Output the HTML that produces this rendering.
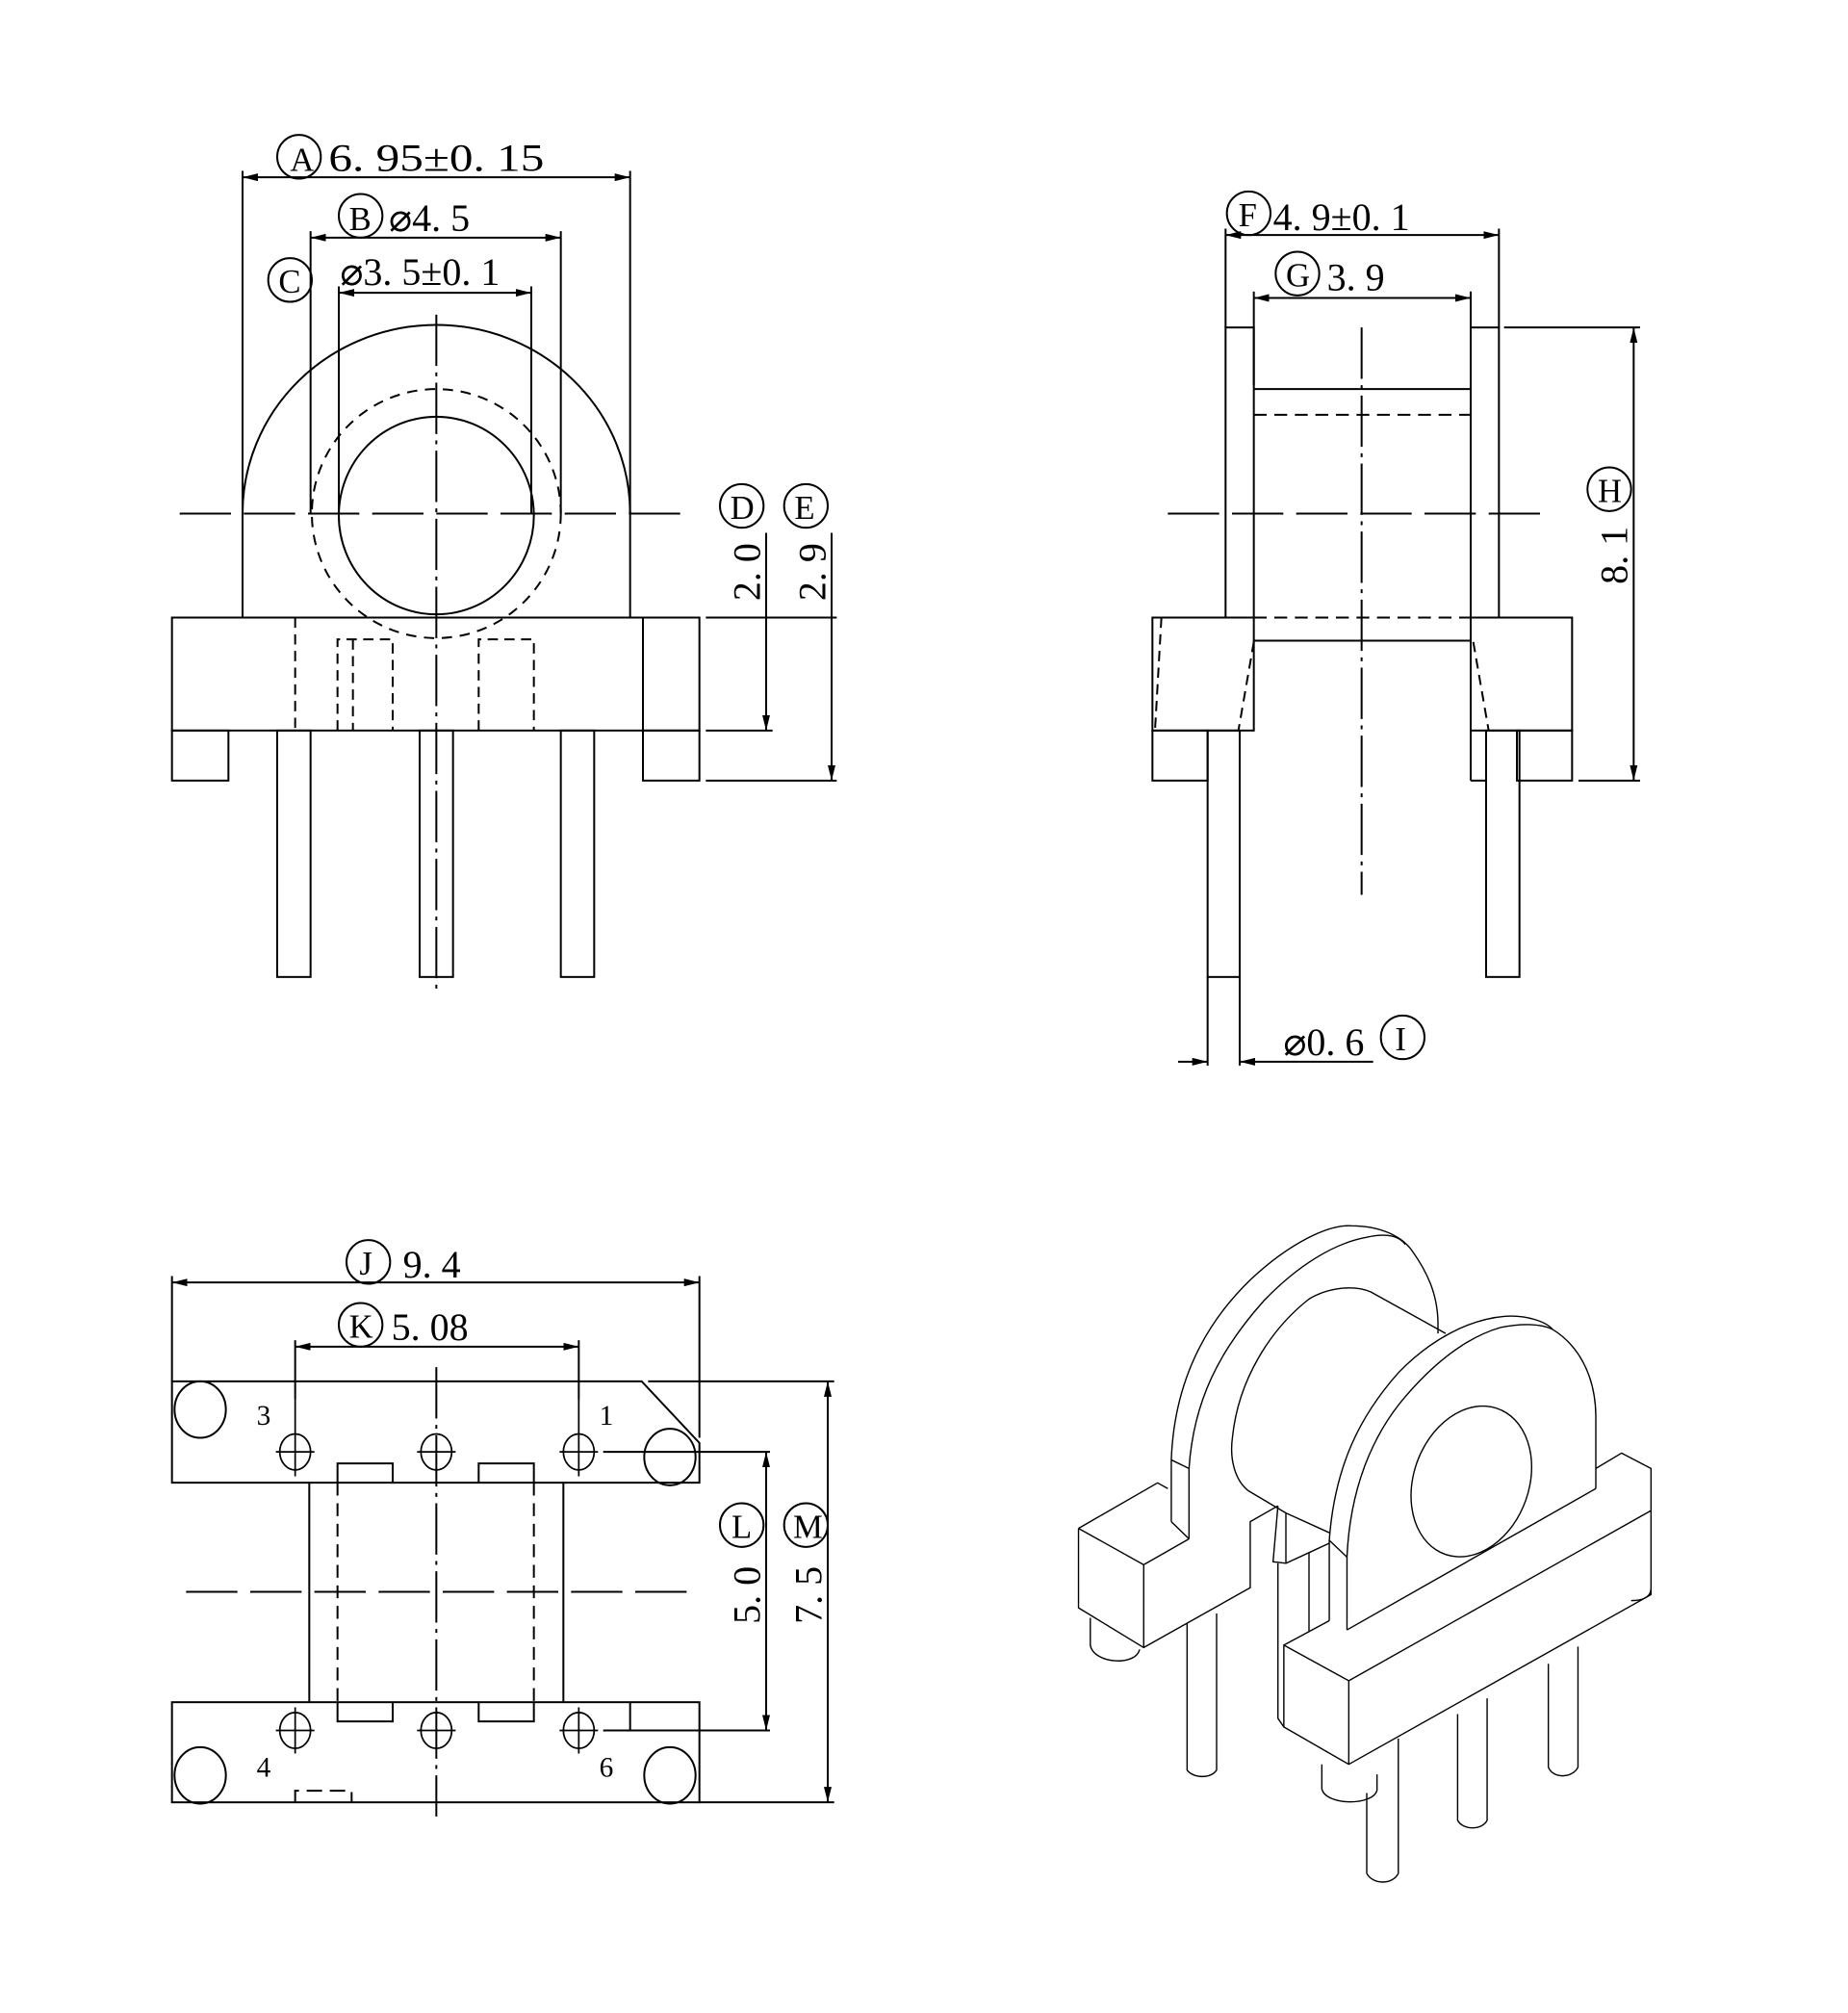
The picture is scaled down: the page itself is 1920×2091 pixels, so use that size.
<!DOCTYPE html>
<html><head><meta charset="utf-8"><style>
html,body{margin:0;padding:0;background:#fff;width:1920px;height:2091px;overflow:hidden}
svg{display:block}
text{font-family:"Liberation Serif",serif;fill:#000}
</style></head><body>
<svg width="1920" height="2091" viewBox="0 0 1440 1568" xmlns="http://www.w3.org/2000/svg">
<defs>
<marker id="a" viewBox="0 0 12 6" refX="12" refY="3" markerWidth="12" markerHeight="6" orient="auto-start-reverse" markerUnits="userSpaceOnUse"><path d="M0,0 L12,3 L0,6z" fill="#000"/></marker>
</defs>
<g fill="none" stroke="#000" stroke-width="1.5">
<!-- ===== TOP LEFT VIEW ===== -->
<line x1="189" y1="133" x2="189" y2="400"/><line x1="491" y1="133" x2="491" y2="400"/>
<line x1="189" y1="138" x2="491" y2="138" marker-start="url(#a)" marker-end="url(#a)"/>
<line x1="242" y1="180" x2="242" y2="400"/><line x1="437" y1="180" x2="437" y2="400"/>
<line x1="242" y1="185" x2="437" y2="185" marker-start="url(#a)" marker-end="url(#a)"/>
<line x1="264" y1="223" x2="264" y2="400"/><line x1="414" y1="223" x2="414" y2="400"/>
<line x1="264" y1="228" x2="414" y2="228" marker-start="url(#a)" marker-end="url(#a)"/>
<path d="M189,400 A151,147 0 0 1 491,400"/>
<line x1="189" y1="400" x2="189" y2="481"/><line x1="491" y1="400" x2="491" y2="481"/>
<circle cx="340" cy="400" r="97" stroke-dasharray="8,6"/>
<ellipse cx="340" cy="401.5" rx="76" ry="77"/>
<line x1="340" y1="245" x2="340" y2="770" stroke-dasharray="40,5,3,5"/>
<line x1="140" y1="400" x2="540" y2="400" stroke-dasharray="40,10"/>
<rect x="134" y="481" width="411" height="88"/>
<rect x="134" y="569" width="44" height="39"/><rect x="501" y="569" width="44" height="39"/>
<line x1="501" y1="481" x2="501" y2="569"/>
<line x1="230" y1="481" x2="230" y2="569" stroke-dasharray="8,5"/>
<path d="M263,569 V498 H306 V569" stroke-dasharray="8,5"/>
<path d="M373,569 V498 H416 V569" stroke-dasharray="8,5"/>
<line x1="275" y1="498" x2="275" y2="569" stroke-dasharray="8,5"/>
<rect x="216" y="569" width="26" height="192"/><rect x="327" y="569" width="26" height="192"/><rect x="437" y="569" width="26" height="192"/>
<line x1="550" y1="481" x2="652" y2="481"/><line x1="550" y1="569" x2="602" y2="569"/><line x1="550" y1="608" x2="652" y2="608"/>
<line x1="597" y1="415" x2="597" y2="569" marker-end="url(#a)"/>
<line x1="648" y1="415" x2="648" y2="608" marker-end="url(#a)"/>
<circle cx="233" cy="122" r="17"/><circle cx="281" cy="168" r="17"/><circle cx="226" cy="218" r="17"/>
<circle cx="578" cy="394" r="17"/><circle cx="628" cy="394" r="17"/>

<!-- ===== TOP RIGHT VIEW ===== -->
<line x1="955" y1="178" x2="955" y2="255"/><line x1="1168" y1="178" x2="1168" y2="255"/>
<line x1="955" y1="183" x2="1168" y2="183" marker-start="url(#a)" marker-end="url(#a)"/>
<line x1="977" y1="227" x2="977" y2="300"/><line x1="1146" y1="227" x2="1146" y2="300"/>
<line x1="977" y1="232" x2="1146" y2="232" marker-start="url(#a)" marker-end="url(#a)"/>
<rect x="955" y="255" width="22" height="226"/><rect x="1146" y="255" width="22" height="226"/>
<line x1="977" y1="303" x2="1146" y2="303"/><line x1="977" y1="499" x2="1146" y2="499"/>
<line x1="977" y1="323" x2="1146" y2="323" stroke-dasharray="10,6"/>
<line x1="977" y1="481" x2="1146" y2="481" stroke-dasharray="10,6"/>
<line x1="1061" y1="255" x2="1061" y2="697" stroke-dasharray="40,5,3,5"/>
<line x1="910" y1="400" x2="1210" y2="400" stroke-dasharray="40,10"/>
<rect x="898" y="481" width="79" height="88"/><rect x="898" y="569" width="43" height="39"/>
<rect x="941" y="569" width="25" height="192"/>
<path d="M905,481 L900,569 M977,500 L965,569" stroke-dasharray="8,5"/>
<rect x="1146" y="481" width="79" height="88"/><rect x="1182" y="569" width="43" height="39"/>
<line x1="1146" y1="569" x2="1146" y2="608"/><line x1="1146" y1="608" x2="1158" y2="608"/>
<rect x="1158" y="569" width="26" height="192"/>
<path d="M1148,500 L1160,569" stroke-dasharray="8,5"/>
<line x1="1172" y1="255" x2="1278" y2="255"/><line x1="1230" y1="608" x2="1278" y2="608"/>
<line x1="1273" y1="255" x2="1273" y2="608" marker-start="url(#a)" marker-end="url(#a)"/>
<line x1="941" y1="761" x2="941" y2="830"/><line x1="966" y1="761" x2="966" y2="830"/>
<line x1="918" y1="827" x2="941" y2="827" marker-end="url(#a)"/>
<line x1="1070" y1="827" x2="966" y2="827" marker-end="url(#a)"/>
<circle cx="973" cy="166" r="17"/><circle cx="1011" cy="213" r="17"/><circle cx="1254" cy="381" r="17"/><circle cx="1093" cy="808" r="17"/>

<!-- ===== BOTTOM LEFT VIEW ===== -->
<line x1="134" y1="994" x2="134" y2="1076"/><line x1="545" y1="994" x2="545" y2="1120"/>
<line x1="134" y1="999" x2="545" y2="999" marker-start="url(#a)" marker-end="url(#a)"/>
<line x1="230" y1="1044" x2="230" y2="1090"/><line x1="451" y1="1044" x2="451" y2="1090"/>
<line x1="230" y1="1049" x2="451" y2="1049" marker-start="url(#a)" marker-end="url(#a)"/>
<path d="M134,1076 H500 L545,1124 V1155 H134 Z"/>
<line x1="505" y1="1076" x2="650" y2="1076"/>
<ellipse cx="156" cy="1098" rx="20" ry="22"/><ellipse cx="522" cy="1135" rx="20" ry="22"/>
<ellipse cx="156" cy="1383" rx="20" ry="22"/><ellipse cx="522" cy="1383" rx="20" ry="22"/>
<g stroke-width="1.3">
<ellipse cx="230" cy="1131" rx="12" ry="14"/><ellipse cx="340" cy="1131" rx="12" ry="14"/><ellipse cx="451" cy="1131" rx="12" ry="14"/>
<ellipse cx="230" cy="1348" rx="12" ry="14"/><ellipse cx="340" cy="1348" rx="12" ry="14"/><ellipse cx="451" cy="1348" rx="12" ry="14"/>
<path d="M215,1131 H245 M325,1131 H355 M436,1131 H466 M215,1348 H245 M325,1348 H355 M436,1348 H466 M230,1330 V1366 M451,1330 V1366 M230,1090 V1150 M451,1090 V1150"/>
</g>
<line x1="470" y1="1131" x2="600" y2="1131"/><line x1="470" y1="1348" x2="600" y2="1348"/>
<line x1="241" y1="1155" x2="241" y2="1326"/><line x1="439" y1="1155" x2="439" y2="1326"/>
<path d="M263,1155 V1140 H306 V1155 M373,1155 V1140 H416 V1155"/>
<path d="M263,1326 V1341 H306 V1326 M373,1326 V1341 H416 V1326"/>
<line x1="263" y1="1155" x2="263" y2="1326" stroke-dasharray="10,6"/><line x1="416" y1="1155" x2="416" y2="1326" stroke-dasharray="10,6"/>
<rect x="134" y="1326" width="411" height="78"/>
<line x1="491" y1="1326" x2="491" y2="1348"/>
<path d="M230,1404 V1395 H274 V1404" stroke-dasharray="12,6"/>
<line x1="145" y1="1240" x2="540" y2="1240" stroke-dasharray="40,10"/>
<line x1="340" y1="1065" x2="340" y2="1415" stroke-dasharray="40,5,3,5"/>
<line x1="545" y1="1404" x2="650" y2="1404"/>
<line x1="597" y1="1131" x2="597" y2="1348" marker-start="url(#a)" marker-end="url(#a)"/>
<line x1="645" y1="1076" x2="645" y2="1404" marker-start="url(#a)" marker-end="url(#a)"/>
<circle cx="287" cy="983" r="17"/><circle cx="281" cy="1032" r="17"/><circle cx="578" cy="1188" r="17"/><circle cx="628" cy="1188" r="17"/>

<!-- ===== ISO VIEW ===== -->
<g stroke-width="1.4" stroke-linejoin="round" transform="translate(0,937.5) scale(1,1.1188) translate(0,-937.5)">
<g vector-effect="non-scaling-stroke">
<path vector-effect="non-scaling-stroke" d="M912.7,1159 V1116 C915,1060 940,1020 975,990 C1005,965 1035,952 1053,953 C1075,953 1092,960 1100,970 C1112,985 1120,1000 1120.5,1020 V1028"/>
<path vector-effect="non-scaling-stroke" d="M926.5,1171 V1122 C930,1075 950,1040 985,1005 C1012,980 1040,965 1065,961 C1080,958 1090,960 1095,966"/>
<path vector-effect="non-scaling-stroke" d="M912.7,1116 L926.5,1122 M912.7,1159 L926.5,1171"/>
<path vector-effect="non-scaling-stroke" d="M840.4,1163.7 L902,1132 L910,1136 M840.4,1163.7 L891.2,1189 L926.5,1171 M840.4,1163.7 V1219 L891.2,1246.7 V1189 M891.2,1246.7 L974.2,1205 V1159 L995.8,1148"/>
<path vector-effect="non-scaling-stroke" d="M849.6,1226 V1245 C852,1258 885,1260 888,1248"/>
<path vector-effect="non-scaling-stroke" d="M925,1230 V1332 C930,1338 944,1338 948,1332 V1223"/>
<path vector-effect="non-scaling-stroke" d="M972.7,1137.5 C962,1130 958,1115 960.4,1100 C965,1060 990,1025 1020,1004 C1035,996 1055,994 1068,999 L1126.5,1028"/>
<path vector-effect="non-scaling-stroke" d="M972.7,1137.5 L1002,1153 L1035.8,1166.7"/>
<path vector-effect="non-scaling-stroke" d="M1002,1153 V1188 L1020,1180.6 V1236 M1020,1180.6 L1035.8,1174"/>
<path vector-effect="non-scaling-stroke" d="M995.8,1148 L992,1187 L1002,1188 M995.8,1188 V1296 L1000.4,1302"/>
<path vector-effect="non-scaling-stroke" d="M1035.8,1228 V1172 C1040,1120 1060,1085 1090,1055 C1115,1032 1145,1018 1172.7,1016 C1190,1015 1205,1020 1209.6,1025 C1228,1035 1243,1055 1243.5,1085 V1136"/>
<path vector-effect="non-scaling-stroke" d="M1049.6,1234.4 V1183.7 C1052,1135 1070,1098 1095,1072 C1120,1046 1145,1030 1169.6,1023.7 C1185,1021 1200,1021 1209.6,1025"/>
<path vector-effect="non-scaling-stroke" d="M1035.8,1172 L1049.6,1183.7 M1049.6,1234.4 L1243.5,1136"/>
<ellipse vector-effect="non-scaling-stroke" cx="1146.5" cy="1131" rx="44" ry="55" transform="rotate(30 1146.5 1131)"/>
<path vector-effect="non-scaling-stroke" d="M1000.4,1245 L1035.8,1228 M1243.5,1122 L1263.5,1111.3 L1286.5,1122 V1209.8 L1051,1328 L1000.4,1302 V1245 L1051,1269.8 V1328 M1051,1269.8 L1286.5,1151.3"/>
<path vector-effect="non-scaling-stroke" d="M1271,1214 C1280,1214 1286,1212 1286.5,1206"/>
<path vector-effect="non-scaling-stroke" d="M1030,1328 V1345 C1033,1357 1070,1357 1073,1346 V1335"/>
<path vector-effect="non-scaling-stroke" d="M1065,1348 V1404 C1070,1412 1085,1412 1089.6,1404 V1310"/>
<path vector-effect="non-scaling-stroke" d="M1135.8,1293 V1367 C1140,1374 1155,1374 1158.8,1367 V1282"/>
<path vector-effect="non-scaling-stroke" d="M1206.5,1258 V1330 C1210,1338 1225,1338 1229.6,1330 V1246"/>
</g>
</g>
</g>
<!-- ===== TEXT ===== -->
<g font-size="30">
<text x="226" y="133" font-size="26">A</text><text x="256" y="133" textLength="168" lengthAdjust="spacingAndGlyphs">6. 95±0. 15</text>
<text x="272" y="179" font-size="26">B</text><text x="303" y="180">⌀4. 5</text>
<text x="217" y="228" font-size="26">C</text><text x="265" y="222">⌀3. 5±0. 1</text>
<text x="569" y="404" font-size="26">D</text><text x="619" y="404" font-size="26">E</text>
<text transform="translate(592,468) rotate(-90)">2. 0</text>
<text transform="translate(643,468) rotate(-90)">2. 9</text>
<text x="965" y="176" font-size="26">F</text><text x="992" y="179">4. 9±0. 1</text>
<text x="1002" y="223" font-size="26">G</text><text x="1034" y="226">3. 9</text>
<text x="1245" y="391" font-size="26">H</text>
<text transform="translate(1268,455) rotate(-90)">8. 1</text>
<text x="1000" y="822">⌀0. 6</text><text x="1087" y="818" font-size="26">I</text>
<text x="280" y="993" font-size="26">J</text><text x="314" y="995">9. 4</text>
<text x="272" y="1042" font-size="26">K</text><text x="305" y="1044">5. 08</text>
<text x="570" y="1198" font-size="26">L</text><text x="618" y="1198" font-size="26">M</text>
<text transform="translate(592,1265) rotate(-90)">5. 0</text>
<text transform="translate(640,1265) rotate(-90)">7. 5</text>
<text x="200" y="1110" font-size="22">3</text><text x="467" y="1110" font-size="22">1</text>
<text x="200" y="1384" font-size="22">4</text><text x="467" y="1384" font-size="22">6</text>
</g>
</svg>
</body></html>
